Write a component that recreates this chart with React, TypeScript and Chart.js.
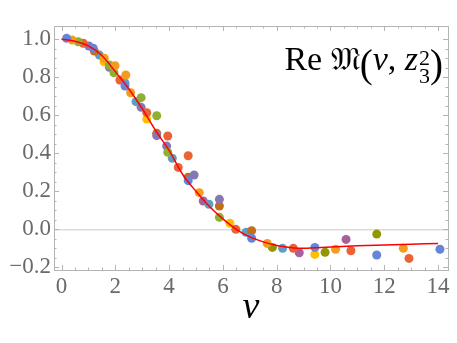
import React, { useEffect, useRef } from "react";
import { Chart, registerables } from "chart.js";

Chart.register(...registerables);

// ---- data ----
const xTickValues = [0, 2, 4, 6, 8, 10, 12, 14];
const yTickValues = [-0.2, 0, 0.2, 0.4, 0.6, 0.8, 1.0];

const curveX = [0, 0.5, 1, 1.5, 2, 2.5, 3, 3.5, 4, 4.5, 5, 5.5, 6, 6.5, 7, 7.5, 8, 8.5, 9, 10, 11, 12, 13, 14];
const curveY = [1.0, 0.99, 0.965, 0.915, 0.83, 0.74, 0.635, 0.52, 0.415, 0.29, 0.2, 0.12, 0.055, 0.0, -0.04, -0.066, -0.085, -0.095, -0.1, -0.093, -0.087, -0.082, -0.078, -0.074];

const blueX = [0.19, 1.18, 2.36, 4.71, 7.07, 9.42, 11.72, 14.07];
const blueY = [1.005, 0.953, 0.754, 0.256, -0.047, -0.095, -0.135, -0.105];
const orangeX = [0.4, 1.59, 1.99, 2.39, 2.57, 5.12, 7.65, 10.19, 12.71];
const orangeY = [0.996, 0.9, 0.861, 0.812, 0.719, 0.193, -0.074, -0.105, -0.1];
const greenX = [0.62, 1.78, 1.95, 2.96, 3.54, 3.95, 5.87];
const greenY = [0.987, 0.865, 0.824, 0.693, 0.598, 0.405, 0.063];
const redX = [0.81, 2.17, 3.17, 3.95, 4.34, 4.71, 6.48, 8.62, 10.76, 12.92];
const redY = [0.979, 0.786, 0.614, 0.491, 0.326, 0.387, 0.0, -0.1, -0.113, -0.153];
const purpleX = [1.02, 1.78, 2.96, 3.54, 3.91, 4.93, 5.87];
const purpleY = [0.965, 0.853, 0.642, 0.493, 0.438, 0.286, 0.158];
const brownX = [1.22, 3.54, 4.71, 5.87, 7.07];
const brownY = [0.938, 0.505, 0.274, 0.123, -0.007];
const lightBlueX = [1.41, 2.36, 2.77, 4.12, 5.48, 6.86, 8.22];
const lightBlueY = [0.917, 0.77, 0.672, 0.374, 0.132, -0.016, -0.1];
const yellowX = [1.58, 3.17, 6.26, 9.42];
const yellowY = [0.882, 0.58, 0.032, -0.132];
const magentaX = [5.27, 8.84, 10.58];
const magentaY = [0.149, -0.123, -0.053];
const oliveX = [7.84, 9.8, 11.72];
const oliveY = [-0.095, -0.121, -0.025];

const zip = (xs: number[], ys: number[]) => xs.map((x, i) => ({ x, y: ys[i] }));

const pointSeries = [
  { xs: blueX, ys: blueY, color: "#6685D9" },
  { xs: orangeX, ys: orangeY, color: "#F39C1F" },
  { xs: greenX, ys: greenY, color: "#8FB032" },
  { xs: redX, ys: redY, color: "#EB6235" },
  { xs: purpleX, ys: purpleY, color: "#8778B3" },
  { xs: brownX, ys: brownY, color: "#C56E1A" },
  { xs: lightBlueX, ys: lightBlueY, color: "#5D9EC7" },
  { xs: yellowX, ys: yellowY, color: "#FFBF00" },
  { xs: magentaX, ys: magentaY, color: "#A5609D" },
  { xs: oliveX, ys: oliveY, color: "#929600" },
];

const FRAME = "#b4b4b4";
const LABEL = "#6a6a6a";
const SERIF = "'Liberation Serif', 'DejaVu Serif', serif";

const framePlugin = {
  id: "frameTicks",
  afterDraw(chart: any) {
    const { ctx, chartArea } = chart;
    const { left, right, top, bottom } = chartArea;
    const xs = chart.scales.x;
    const ys = chart.scales.y;
    ctx.save();
    ctx.strokeStyle = FRAME;
    ctx.lineWidth = 1;
    ctx.strokeRect(Math.round(left) + 0.5, Math.round(top) + 0.5, Math.round(right - left), Math.round(bottom - top));
    const line = (x1: number, y1: number, x2: number, y2: number) => {
      ctx.beginPath();
      ctx.moveTo(x1, y1);
      ctx.lineTo(x2, y2);
      ctx.stroke();
    };
    for (let v = 0; v <= 14.001; v += 0.5) {
      const major = Math.abs(v / 2 - Math.round(v / 2)) < 1e-6;
      const len = major ? 5 : 2.5;
      const px = Math.round(xs.getPixelForValue(v)) + 0.5;
      line(px, bottom, px, bottom - len);
      line(px, top, px, top + len);
    }
    for (let i = -4; i <= 20; i++) {
      const v = i * 0.05;
      const major = i % 4 === 0;
      const len = major ? 5 : 2.5;
      const py = Math.round(ys.getPixelForValue(v)) + 0.5;
      line(left, py, left + len, py);
      line(right, py, right - len, py);
    }
    ctx.restore();
  },
};

const titlePlugin = {
  id: "mathTitle",
  afterDraw(chart: any) {
    const { ctx } = chart;
    const size = 34;
    const small = 22;
    const up = `${size}px ${SERIF}`;
    const it = `italic ${size}px ${SERIF}`;
    const sm = `${small}px ${SERIF}`;
    const paren = `39px ${SERIF}`;
    const frak = `${size - 2}px 'DejaVu Serif', 'DejaVu Sans', serif`;
    const baseY = 70;
    const parenY = 77;
    const parts: { t: string; f: string; y: number }[] = [
      { t: "Re ", f: up, y: baseY },
      { t: "\u{1D510}", f: frak, y: baseY },
      { t: "(", f: paren, y: parenY },
      { t: "\u03BD", f: it, y: baseY },
      { t: ", ", f: up, y: baseY },
      { t: "z", f: it, y: baseY },
    ];
    ctx.save();
    ctx.fillStyle = "#000";
    ctx.textBaseline = "alphabetic";
    const widths = parts.map((p) => {
      ctx.font = p.f;
      return ctx.measureText(p.t).width;
    });
    ctx.font = sm;
    const scriptW = Math.max(ctx.measureText("2").width, ctx.measureText("3").width) + 1;
    ctx.font = paren;
    const parenW = ctx.measureText(")").width;
    const total = widths.reduce((a, b) => a + b, 0) + scriptW + parenW;
    let x = 443 - total;
    parts.forEach((p, i) => {
      ctx.font = p.f;
      ctx.fillText(p.t, x, p.y);
      x += widths[i];
    });
    ctx.font = sm;
    ctx.fillText("2", x + 1, 65);
    ctx.fillText("3", x + 1, 83);
    x += scriptW;
    ctx.font = paren;
    ctx.fillText(")", x, parenY);
    ctx.restore();
  },
};

export default function App() {
  const ref = useRef<HTMLCanvasElement | null>(null);
  useEffect(() => {
    if (!ref.current) return;
    const datasets: any[] = [
      {
        type: "line",
        data: zip(curveX, curveY),
        borderColor: "#ff0000",
        borderWidth: 1.5,
        pointRadius: 0,
        showLine: true,
        fill: false,
        cubicInterpolationMode: "monotone",
      },
      ...pointSeries.map((s) => ({
        type: "scatter",
        data: zip(s.xs, s.ys),
        backgroundColor: s.color,
        borderWidth: 0,
        pointRadius: 4.5,
        pointHoverRadius: 4.5,
      })),
    ];
    const chart = new Chart(ref.current, {
      type: "scatter",
      data: { datasets },
      options: {
        animation: false,
        responsive: true,
        maintainAspectRatio: false,
        events: [],
        layout: { padding: { top: 26, right: 9, left: 0, bottom: 0 } },
        plugins: { legend: { display: false }, tooltip: { enabled: false } },
        scales: {
          x: {
            type: "linear",
            min: -0.279,
            max: 14.37,
            afterBuildTicks: (scale: any) => {
              scale.ticks = xTickValues.map((v) => ({ value: v }));
            },
            afterFit: (scale: any) => {
              scale.height = 73;
            },
            grid: { display: false, drawTicks: false },
            border: { display: false },
            ticks: {
              padding: 3,
              color: LABEL,
              font: { family: SERIF, size: 23 },
              maxRotation: 0,
              autoSkip: false,
              callback: (v: any) => String(v),
            },
            title: {
              display: true,
              text: "\u03BD",
              color: "#000",
              font: { family: SERIF, size: 38, style: "italic" },
              padding: { top: 0, bottom: 12 },
            },
          },
          y: {
            type: "linear",
            min: -0.214,
            max: 1.07,
            afterBuildTicks: (scale: any) => {
              scale.ticks = yTickValues.map((v) => ({ value: v }));
            },
            afterFit: (scale: any) => {
              scale.width = 54;
            },
            grid: {
              drawTicks: false,
              lineWidth: 1.5,
              color: (c: any) => (c.tick && Math.abs(c.tick.value) < 1e-9 ? "#dcdcdc" : "rgba(0,0,0,0)"),
            },
            border: { display: false },
            ticks: {
              padding: 3,
              color: LABEL,
              font: { family: SERIF, size: 23 },
              autoSkip: false,
              callback: (v: any) => Number(v).toFixed(1).replace("-", "\u2212"),
            },
          },
        },
      },
      plugins: [framePlugin, titlePlugin],
    } as any);
    return () => chart.destroy();
  }, []);
  return (
    <div style={{ position: "fixed", left: 0, top: 0, width: 457, height: 343, background: "#fff" }}>
      <canvas ref={ref} />
    </div>
  );
}
